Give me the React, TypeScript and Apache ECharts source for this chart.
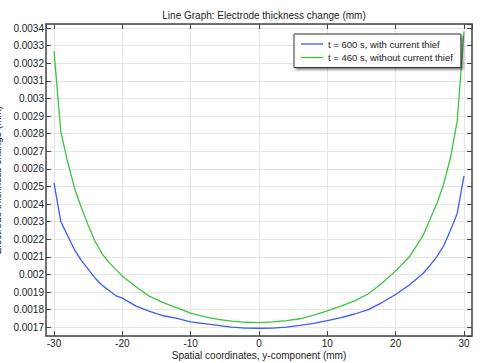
import React, { useEffect, useRef } from "react";
import * as echarts from "echarts";

const xBlue = [-30, -29, -28, -27, -26, -25, -24, -23, -22, -21, -20, -18, -16, -14, -12, -10, -8, -6, -4, -2, 0, 2, 4, 6, 8, 10, 12, 14, 16, 18, 20, 22, 24, 25, 26, 27, 28, 29, 30];
const yBlue = [0.00252, 0.0023, 0.00222, 0.00214, 0.00208, 0.00203, 0.00198, 0.00194, 0.00191, 0.00188, 0.001865, 0.00182, 0.00179, 0.001765, 0.00175, 0.00173, 0.00172, 0.00171, 0.0017, 0.001695, 0.001694, 0.001695, 0.0017, 0.00171, 0.001722, 0.001738, 0.001755, 0.001775, 0.0018, 0.00184, 0.001886, 0.00194, 0.002005, 0.00205, 0.0021, 0.00216, 0.00225, 0.002345, 0.00256];

const xGreen = [-30, -29, -28, -27, -26, -25, -24, -23, -22, -21, -20, -18, -16, -14, -12, -10, -8, -6, -4, -2, 0, 2, 4, 6, 8, 10, 12, 14, 16, 18, 20, 22, 24, 25, 26, 27, 28, 29, 30];
const yGreen = [0.00327, 0.00281, 0.00264, 0.00249, 0.00238, 0.00228, 0.00219, 0.00212, 0.00207, 0.00203, 0.00199, 0.00193, 0.001875, 0.00184, 0.00181, 0.00178, 0.00176, 0.001745, 0.001735, 0.001728, 0.001726, 0.00173, 0.001737, 0.001748, 0.001768, 0.001793, 0.00182, 0.00185, 0.00189, 0.00195, 0.00202, 0.0021, 0.00222, 0.00231, 0.0024, 0.00251, 0.00266, 0.00287, 0.00338];

const seriesNames = ["t = 600 s, with current thief", "t = 460 s, without current thief"];
const titleText = "Line Graph: Electrode thickness change (mm)";
const xName = "Spatial coordinates, y-component (mm)";
const yName = "Electrode thickness change (mm)";

const FONT = "Liberation Sans";
const AXIS_COLOR = "#444";

export default function App() {
  const ref = useRef<HTMLDivElement>(null);
  useEffect(() => {
    const chart = echarts.init(ref.current!, null, { renderer: "svg" });
    const xMin = -31.17, xMax = 31.17, yMin = 0.00165, yMax = 0.003423;
    const boxAxisX = (pos: "bottom" | "top", main: boolean) => ({
      type: "value",
      position: pos,
      min: xMin,
      max: xMax,
      splitNumber: 6,
      axisLine: { show: true, onZero: false, lineStyle: { color: AXIS_COLOR, width: 1.5 } },
      axisTick: { show: true, inside: true, length: 5, lineStyle: { color: AXIS_COLOR } },
      axisLabel: {
        show: main,
        showMinLabel: false,
        showMaxLabel: false,
        color: "#222",
        fontSize: 10,
        fontFamily: FONT,
        margin: 2,
      },
      splitLine: { show: main, lineStyle: { color: "#e6e6e6", width: 1 } },
    });
    const boxAxisY = (pos: "left" | "right", main: boolean) => ({
      type: "value",
      position: pos,
      min: yMin,
      max: yMax,
      splitNumber: 17,
      axisLine: { show: true, onZero: false, lineStyle: { color: AXIS_COLOR, width: 1.5 } },
      axisTick: { show: true, inside: true, length: 5, lineStyle: { color: AXIS_COLOR } },
      axisLabel: {
        show: main,
        showMinLabel: false,
        showMaxLabel: false,
        color: "#222",
        fontSize: 10,
        fontFamily: FONT,
        margin: 2,
        formatter: (v: number) => String(parseFloat(v.toFixed(5))),
      },
      splitLine: { show: main, lineStyle: { color: "#e6e6e6", width: 1 } },
      name: main ? yName : "",
      nameLocation: "middle",
      nameGap: 2,
      nameTextStyle: { color: "#222", fontSize: 10, fontFamily: FONT },
    });
    chart.setOption({
      animation: false,
      backgroundColor: "#fff",
      title: {
        text: titleText,
        left: 259,
        top: 5,
        textAlign: "center",
        textStyle: { fontSize: 10, fontWeight: "normal", color: "#222", fontFamily: FONT },
      },
      grid: { left: 46, top: 24, right: 11, bottom: 27, containLabel: false, outerBoundsMode: "none" },
      xAxis: [boxAxisX("bottom", true), boxAxisX("top", false)],
      yAxis: [boxAxisY("left", true), boxAxisY("right", false)],
      graphic: [
        {
          type: "text",
          x: 259,
          y: 355,
          style: {
            text: xName,
            fill: "#222",
            fontSize: 10,
            fontFamily: FONT,
            textAlign: "center",
            textVerticalAlign: "middle",
          },
        },
      ],
      legend: {
        left: 294,
        top: 34,
        orient: "vertical",
        icon: "rect",
        itemWidth: 22,
        itemHeight: 1.3,
        itemGap: 1.5,
        padding: [4, 8, 4, 7],
        backgroundColor: "#fff",
        borderColor: "#333",
        borderWidth: 1,
        shadowColor: "rgba(0,0,0,0.45)",
        shadowBlur: 2,
        shadowOffsetX: 2,
        shadowOffsetY: 2,
        textStyle: { fontSize: 9.5, color: "#222", fontFamily: FONT, lineHeight: 12 },
        data: seriesNames,
      },
      series: [
        {
          name: seriesNames[0],
          type: "line",
          xAxisIndex: 0,
          yAxisIndex: 0,
          symbol: "none",
          lineStyle: { color: "#3a5cf5", width: 1.3 },
          itemStyle: { color: "#3a5cf5" },
          data: xBlue.map((x, i) => [x, yBlue[i]]),
        },
        {
          name: seriesNames[1],
          type: "line",
          xAxisIndex: 0,
          yAxisIndex: 0,
          symbol: "none",
          lineStyle: { color: "#3cc43c", width: 1.3 },
          itemStyle: { color: "#3cc43c" },
          data: xGreen.map((x, i) => [x, yGreen[i]]),
        },
      ],
    });
    return () => chart.dispose();
  }, []);
  return <div ref={ref} style={{ width: 483, height: 363, position: "absolute", left: 0, top: 0 }} />;
}
